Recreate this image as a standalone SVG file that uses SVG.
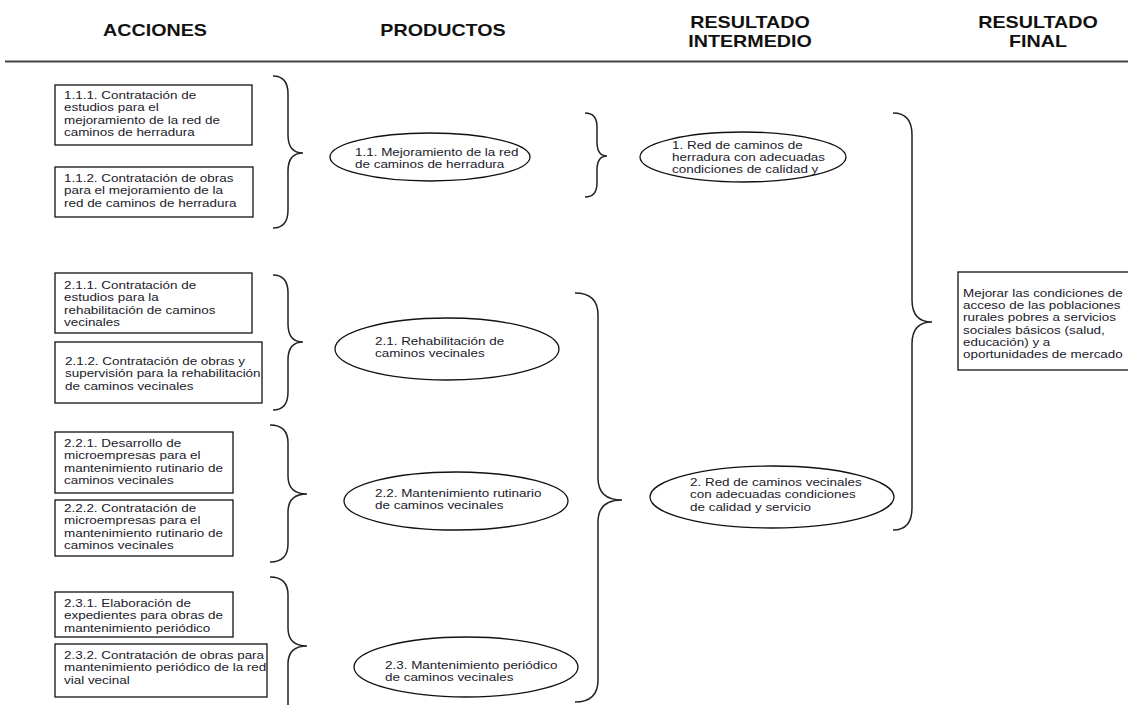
<svg xmlns="http://www.w3.org/2000/svg" width="1128" height="705" viewBox="0 0 1128 705">
  <style>
    .h { font-family: "Liberation Sans", Arial, sans-serif; font-weight: bold; font-size: 16.4px; fill: #111; }
    .t { font-family: "Liberation Sans", Arial, sans-serif; font-size: 11.2px; fill: #1a1a2a; }
    .box { fill: #fff; stroke: #111; stroke-width: 1.3; }
    .ell { fill: #fff; stroke: #111; stroke-width: 1.3; }
    .brace { fill: none; stroke: #222; stroke-width: 1.5; }
  </style>
  <rect width="1128" height="705" fill="#fff"/>

  <!-- column headings -->
  <g id="headers">
    <g transform="translate(155,36) scale(1.2,1)"><text class="h" text-anchor="middle">ACCIONES</text></g>
    <g transform="translate(443,36) scale(1.2,1)"><text class="h" text-anchor="middle">PRODUCTOS</text></g>
    <g transform="translate(750,28) scale(1.2,1)"><text class="h" text-anchor="middle"><tspan x="0" y="0">RESULTADO</tspan><tspan x="0" y="19">INTERMEDIO</tspan></text></g>
    <g transform="translate(1038,28) scale(1.2,1)"><text class="h" text-anchor="middle"><tspan x="0" y="0">RESULTADO</tspan><tspan x="0" y="19">FINAL</tspan></text></g>
    <line x1="5" y1="61.5" x2="1128" y2="61.5" stroke="#444" stroke-width="2"/>
  </g>

  <!-- actions -->
  <g id="a111">
    <rect class="box" x="55" y="85" width="197" height="60"/>
    <g transform="translate(64,99) scale(1.2,1)"><text class="t"><tspan x="0" y="0">1.1.1. Contratación de</tspan><tspan x="0" y="12.5">estudios para el</tspan><tspan x="0" y="25">mejoramiento de la red de</tspan><tspan x="0" y="37.5">caminos de herradura</tspan></text></g>
  </g>
  <g id="a112">
    <rect class="box" x="55" y="167" width="198" height="50"/>
    <g transform="translate(64,182) scale(1.2,1)"><text class="t"><tspan x="0" y="0">1.1.2. Contratación de obras</tspan><tspan x="0" y="12.5">para el mejoramiento de la</tspan><tspan x="0" y="25">red de caminos de herradura</tspan></text></g>
  </g>
  <g id="a211">
    <rect class="box" x="55" y="273" width="197" height="60"/>
    <g transform="translate(64,289) scale(1.2,1)"><text class="t"><tspan x="0" y="0">2.1.1. Contratación de</tspan><tspan x="0" y="12.3">estudios para la</tspan><tspan x="0" y="24.6">rehabilitación de caminos</tspan><tspan x="0" y="36.9">vecinales</tspan></text></g>
  </g>
  <g id="a212">
    <rect class="box" x="55" y="342" width="207" height="61"/>
    <g transform="translate(65,365) scale(1.2,1)"><text class="t"><tspan x="0" y="0">2.1.2. Contratación de obras y</tspan><tspan x="0" y="12.3">supervisión para la rehabilitación</tspan><tspan x="0" y="24.6">de caminos vecinales</tspan></text></g>
  </g>
  <g id="a221">
    <rect class="box" x="55" y="432" width="178" height="61"/>
    <g transform="translate(64,447) scale(1.2,1)"><text class="t"><tspan x="0" y="0">2.2.1. Desarrollo de</tspan><tspan x="0" y="12.5">microempresas para el</tspan><tspan x="0" y="25">mantenimiento rutinario de</tspan><tspan x="0" y="37.5">caminos vecinales</tspan></text></g>
  </g>
  <g id="a222">
    <rect class="box" x="55" y="500" width="178" height="56"/>
    <g transform="translate(64,512) scale(1.2,1)"><text class="t"><tspan x="0" y="0">2.2.2. Contratación de</tspan><tspan x="0" y="12.3">microempresas para el</tspan><tspan x="0" y="24.6">mantenimiento rutinario de</tspan><tspan x="0" y="36.9">caminos vecinales</tspan></text></g>
  </g>
  <g id="a231">
    <rect class="box" x="55" y="592" width="178" height="45"/>
    <g transform="translate(64,607) scale(1.2,1)"><text class="t"><tspan x="0" y="0">2.3.1. Elaboración de</tspan><tspan x="0" y="12.3">expedientes para obras de</tspan><tspan x="0" y="24.6">mantenimiento periódico</tspan></text></g>
  </g>
  <g id="a232">
    <rect class="box" x="55" y="644" width="212" height="53"/>
    <g transform="translate(64,659) scale(1.2,1)"><text class="t"><tspan x="0" y="0">2.3.2. Contratación de obras para</tspan><tspan x="0" y="12.3">mantenimiento periódico de la red</tspan><tspan x="0" y="24.6">vial vecinal</tspan></text></g>
  </g>

  <!-- products -->
  <g id="p11">
    <ellipse class="ell" cx="430" cy="157" rx="100" ry="24"/>
    <g transform="translate(355,156) scale(1.2,1)"><text class="t"><tspan x="0" y="0">1.1. Mejoramiento de la red</tspan><tspan x="0" y="12.3">de caminos de herradura</tspan></text></g>
  </g>
  <g id="p21">
    <ellipse class="ell" cx="447" cy="349" rx="112" ry="31"/>
    <g transform="translate(375,345) scale(1.2,1)"><text class="t"><tspan x="0" y="0">2.1. Rehabilitación de</tspan><tspan x="0" y="12.3">caminos vecinales</tspan></text></g>
  </g>
  <g id="p22">
    <ellipse class="ell" cx="456" cy="501" rx="112" ry="29"/>
    <g transform="translate(375,497) scale(1.2,1)"><text class="t"><tspan x="0" y="0">2.2. Mantenimiento rutinario</tspan><tspan x="0" y="12.3">de caminos vecinales</tspan></text></g>
  </g>
  <g id="p23">
    <ellipse class="ell" cx="466" cy="667" rx="112" ry="30"/>
    <g transform="translate(385,669) scale(1.2,1)"><text class="t"><tspan x="0" y="0">2.3. Mantenimiento periódico</tspan><tspan x="0" y="12.3">de caminos vecinales</tspan></text></g>
  </g>

  <!-- intermediate results -->
  <g id="r1">
    <ellipse class="ell" cx="743" cy="157" rx="103" ry="25"/>
    <g transform="translate(672,149) scale(1.2,1)"><text class="t"><tspan x="0" y="0">1. Red de caminos de</tspan><tspan x="0" y="12">herradura con adecuadas</tspan><tspan x="0" y="24">condiciones de calidad y</tspan></text></g>
  </g>
  <g id="r2">
    <ellipse class="ell" cx="772" cy="497" rx="122" ry="31"/>
    <g transform="translate(690,486) scale(1.2,1)"><text class="t"><tspan x="0" y="0">2. Red de caminos vecinales</tspan><tspan x="0" y="12.3">con adecuadas condiciones</tspan><tspan x="0" y="24.6">de calidad y servicio</tspan></text></g>
  </g>

  <!-- final result -->
  <g id="final">
    <rect class="box" x="958" y="272" width="190" height="98"/>
    <g transform="translate(963,297) scale(1.2,1)"><text class="t"><tspan x="0" y="0">Mejorar las condiciones de</tspan><tspan x="0" y="12.2">acceso de las poblaciones</tspan><tspan x="0" y="24.4">rurales pobres a servicios</tspan><tspan x="0" y="36.6">sociales básicos (salud,</tspan><tspan x="0" y="48.8">educación) y a</tspan><tspan x="0" y="61">oportunidades de mercado</tspan></text></g>
  </g>

  <!-- grouping braces -->
  <g id="connectors">
    <path class="brace" d="M273,76 Q288,76 288,94 L288,135 Q288,153 303,153 Q288,153 288,171 L288,210 Q288,228 273,228"/>
    <path class="brace" d="M273,275 Q288,275 288,293 L288,324 Q288,342 303,342 Q288,342 288,360 L288,392 Q288,410 273,410"/>
    <path class="brace" d="M270,425 Q288,425 288,443 L288,476 Q288,494 307,494 Q288,494 288,512 L288,544 Q288,562 270,562"/>
    <path class="brace" d="M270,577 Q288,577 288,595 L288,628 Q288,646 307,646 Q288,646 288,664 L288,720"/>
    <path class="brace" d="M585,113 Q597,113 597,127 L597,142 Q597,156 607,156 Q597,156 597,170 L597,183 Q597,197 585,197"/>
    <path class="brace" d="M575,293 Q598,293 598,315 L598,478 Q598,500 622,500 Q598,500 598,522 L598,680 Q598,702 575,702"/>
    <path class="brace" d="M893,113 Q912,113 912,135 L912,300 Q912,322 932,322 Q912,322 912,344 L912,508 Q912,530 893,530"/>
  </g>
</svg>
